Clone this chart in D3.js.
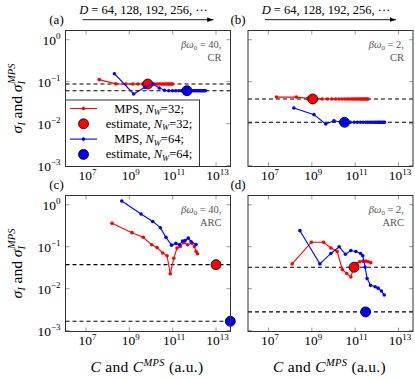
<!DOCTYPE html>
<html>
<head>
<meta charset="utf-8">
<script src="https://cdn.jsdelivr.net/npm/d3@7"></script>
<style>
  html, body { margin: 0; padding: 0; background: #fff; }
  svg text { font-family: "Liberation Serif", "Times New Roman", Times, "DejaVu Serif", serif; }
</style>
</head>
<body>
<script>
// tick exponents
const xTickExps = [7, 9, 11, 13];
const yTickExps = [0, -1, -2, -3];

// (a) beta*omega0 = 40, CR
const aRedLogC = [7.61, 8.38, 8.84, 9.16, 9.40, 9.61, 9.78, 9.93, 10.06, 10.17, 10.28, 10.38, 10.47, 10.55, 10.63, 10.70, 10.77, 10.83, 10.89, 10.95, 11.00];
const aRedSigma = [0.112, 0.089, 0.088, 0.088, 0.088, 0.088, 0.088, 0.088, 0.088, 0.088, 0.088, 0.088, 0.088, 0.088, 0.088, 0.088, 0.088, 0.088, 0.088, 0.088, 0.088];
const aBlueLogC = [8.31, 9.20, 9.72, 10.09, 10.38, 10.62, 10.82, 10.99, 11.14, 11.28, 11.40, 11.51, 11.61, 11.71, 11.80, 11.88, 11.96, 12.03, 12.10, 12.17, 12.24, 12.30, 12.35, 12.41, 12.46, 12.51];
const aBlueSigma = [0.155, 0.051, 0.0736, 0.088, 0.0708, 0.0624, 0.061, 0.061, 0.061, 0.061, 0.061, 0.061, 0.061, 0.061, 0.061, 0.061, 0.061, 0.061, 0.061, 0.061, 0.061, 0.061, 0.061, 0.061, 0.061, 0.061];
const aEstimates = [[9.85, 0.088], [11.66, 0.061]];

// (b) beta*omega0 = 2, CR
const bRedLogC = [7.37, 8.28, 8.81, 9.19, 9.48, 9.72, 9.92, 10.10, 10.25, 10.39, 10.51, 10.63, 10.73, 10.83, 10.92, 11.00, 11.08, 11.16, 11.23, 11.30, 11.36, 11.42, 11.48, 11.54, 11.59];
const bRedSigma = [0.043, 0.043, 0.040, 0.0388, 0.0388, 0.0388, 0.0388, 0.0388, 0.0388, 0.0388, 0.0388, 0.0388, 0.0388, 0.0388, 0.0388, 0.0388, 0.0388, 0.0388, 0.0388, 0.0388, 0.0388, 0.0388, 0.0388, 0.0388, 0.0388];
const bBlueLogC = [8.17, 9.10, 9.64, 10.02, 10.32, 10.56, 10.77, 10.95, 11.10, 11.24, 11.37, 11.49, 11.59, 11.69, 11.78, 11.87, 11.95, 12.03, 12.10, 12.16, 12.23, 12.29, 12.35];
const bBlueSigma = [0.0237, 0.0164, 0.0098, 0.0117, 0.0109, 0.0108, 0.0108, 0.0108, 0.0108, 0.0108, 0.0108, 0.0108, 0.0108, 0.0108, 0.0108, 0.0108, 0.0108, 0.0108, 0.0108, 0.0108, 0.0108, 0.0108, 0.0108];
const bEstimates = [[9.04, 0.0388], [10.51, 0.0108]];

// (c) beta*omega0 = 40, ARC
const cRedLogC = [8.20, 9.12, 9.64, 10.03, 10.28, 10.54, 10.74, 10.89, 11.05, 11.20, 11.35, 11.51, 11.69, 11.88, 12.00, 12.08, 12.15];
const cRedSigma = [0.36, 0.216, 0.168, 0.111, 0.096, 0.071, 0.061, 0.0226, 0.053, 0.093, 0.101, 0.126, 0.111, 0.122, 0.101, 0.077, 0.068];
const cBlueLogC = [8.65, 9.54, 10.08, 10.43, 10.69, 10.95, 11.15, 11.31, 11.46, 11.57, 11.72, 11.85, 12.08];
const cBlueSigma = [1.23, 0.60, 0.40, 0.284, 0.167, 0.109, 0.12, 0.111, 0.136, 0.14, 0.16, 0.131, 0.113];
const cEstimates = [[13.0, 0.0374], [13.66, 0.00167]];

// (d) beta*omega0 = 2, ARC
const dRedLogC = [8.09, 8.98, 9.54, 9.88, 10.17, 10.41, 10.61, 10.80, 10.93, 11.07, 11.21, 11.35, 11.49, 11.60, 11.72];
const dRedSigma = [0.039, 0.128, 0.128, 0.093, 0.077, 0.0285, 0.023, 0.019, 0.0318, 0.0395, 0.044, 0.0453, 0.0453, 0.044, 0.0417];
const dBlueLogC = [8.45, 9.37, 9.88, 10.26, 10.55, 10.80, 11.03, 11.25, 11.35, 11.46, 11.55, 11.71, 11.92, 12.06, 12.21, 12.34];
const dBlueSigma = [0.241, 0.039, 0.069, 0.0995, 0.066, 0.081, 0.077, 0.069, 0.061, 0.0327, 0.0175, 0.012, 0.0111, 0.0103, 0.0088, 0.0071];
const dEstimates = [[10.95, 0.0324], [11.48, 0.0028]];

const RED = '#ff0000', BLUE = '#0000ff';
const PW = 165, PH = 136;

const panels = [
  { id: '(a)', x0: 65.5, y0: 30.5, beta: '40', kind: 'CR', red: [aRedLogC, aRedSigma], blue: [aBlueLogC, aBlueSigma], est: aEstimates, left: true, bottom: false },
  { id: '(b)', x0: 248, y0: 30.5, beta: '2', kind: 'CR', red: [bRedLogC, bRedSigma], blue: [bBlueLogC, bBlueSigma], est: bEstimates, left: false, bottom: false },
  { id: '(c)', x0: 65.5, y0: 195.5, beta: '40', kind: 'ARC', red: [cRedLogC, cRedSigma], blue: [cBlueLogC, cBlueSigma], est: cEstimates, left: true, bottom: true },
  { id: '(d)', x0: 248, y0: 195.5, beta: '2', kind: 'ARC', red: [dRedLogC, dRedSigma], blue: [dBlueLogC, dBlueSigma], est: dEstimates, left: false, bottom: true },
];

const svg = d3.select('body').append('svg').attr('width', 415).attr('height', 379);

svg.append('defs').append('marker')
  .attr('id', 'arrow').attr('viewBox', '0 0 10 10').attr('refX', 10).attr('refY', 5)
  .attr('markerWidth', 7).attr('markerHeight', 7).attr('orient', 'auto')
  .append('path').attr('d', 'M0,1.5 L10,5 L0,8.5 Z').attr('fill', '#000');

function powLabel(sel, exp) {
  sel.append('tspan').text('10');
  sel.append('tspan').attr('dy', -5.5).attr('font-size', 9).text(String(exp).replace('-', '\u2212'));
}

function drawPanel(p) {
  const x = d3.scaleLog().domain([10 ** 6.054, 10 ** 13.668]).range([p.x0, p.x0 + PW]);
  const y = d3.scaleLog().domain([10 ** -3.02, 10 ** 0.22]).range([p.y0 + PH, p.y0]);
  const g = svg.append('g');

  // ticks, inward on all four sides
  const tickCol = '#9a9a9a';
  xTickExps.map(e => 10 ** e).forEach(v => {
    g.append('line').attr('x1', x(v)).attr('x2', x(v)).attr('y1', p.y0 + PH).attr('y2', p.y0 + PH - 4).attr('stroke', tickCol);
    g.append('line').attr('x1', x(v)).attr('x2', x(v)).attr('y1', p.y0).attr('y2', p.y0 + 4).attr('stroke', tickCol);
  });
  yTickExps.map(e => 10 ** e).forEach(v => {
    g.append('line').attr('x1', p.x0).attr('x2', p.x0 + 4).attr('y1', y(v)).attr('y2', y(v)).attr('stroke', tickCol);
    g.append('line').attr('x1', p.x0 + PW).attr('x2', p.x0 + PW - 4).attr('y1', y(v)).attr('y2', y(v)).attr('stroke', tickCol);
  });

  // tick labels
  xTickExps.forEach(e => {
    const t = g.append('text').attr('x', x(10 ** e) + 1.5).attr('y', p.y0 + PH + 13.5)
      .attr('text-anchor', 'middle').attr('font-size', 13.5);
    powLabel(t, e);
  });
  if (p.left) {
    yTickExps.forEach(e => {
      const t = g.append('text').attr('x', p.x0 - 5).attr('y', y(10 ** e) + 5)
        .attr('text-anchor', 'end').attr('font-size', 13.5);
      powLabel(t, e);
    });
  }

  // dashed estimate levels
  p.est.forEach(([lc, s]) => {
    g.append('line').attr('x1', p.x0).attr('x2', p.x0 + PW).attr('y1', y(s)).attr('y2', y(s))
      .attr('stroke', '#000').attr('stroke-width', 1.1).attr('stroke-dasharray', '4,3');
  });

  const line = d3.line().x(d => x(10 ** d[0])).y(d => y(d[1]));
  [[p.red, RED, p.est[0]], [p.blue, BLUE, p.est[1]]].forEach(([ser, col, est]) => {
    const pts = d3.zip(ser[0], ser[1]);
    g.append('path').datum(pts).attr('d', line).attr('fill', 'none').attr('stroke', col).attr('stroke-width', 1.1);
    g.selectAll(null).data(pts).join('circle')
      .attr('cx', d => x(10 ** d[0])).attr('cy', d => y(d[1])).attr('r', 1.8).attr('fill', col);
    g.append('circle').attr('cx', x(10 ** est[0])).attr('cy', y(est[1])).attr('r', 5)
      .attr('fill', col).attr('stroke', '#000').attr('stroke-width', 0.8);
  });

  // frame
  g.append('rect').attr('x', p.x0).attr('y', p.y0).attr('width', PW).attr('height', PH)
    .attr('fill', 'none').attr('stroke', '#333').attr('stroke-width', 1);

  // annotation
  const ax = p.x0 + PW - 9;
  const a1 = g.append('text').attr('x', ax).attr('y', p.y0 + 17.5).attr('text-anchor', 'end')
    .attr('font-size', 10.5).attr('fill', '#555');
  a1.append('tspan').attr('font-style', 'italic').text('βω');
  a1.append('tspan').attr('dy', 1.5).attr('font-size', 7).text('0');
  a1.append('tspan').attr('dy', -1.5).text(' = ' + p.beta + ',');
  g.append('text').attr('x', ax).attr('y', p.y0 + 30).attr('text-anchor', 'end')
    .attr('font-size', 10.5).attr('fill', '#555').text(p.kind);

  // panel label
  g.append('text').attr('x', p.x0 - (p.left ? 9 : 10)).attr('y', p.y0 - 6.5).attr('text-anchor', 'middle')
    .attr('font-size', 13).text(p.id);

  // y title
  if (p.left) {
    const t = g.append('text').attr('transform', `translate(22,${p.y0 + PH / 2}) rotate(-90)`)
      .attr('text-anchor', 'middle').attr('font-size', 15.5);
    t.append('tspan').attr('font-style', 'italic').text('σ');
    t.append('tspan').attr('font-style', 'italic').attr('dy', 3).attr('font-size', 10.5).text('I');
    t.append('tspan').attr('dy', -3).text(' and ');
    t.append('tspan').attr('font-style', 'italic').text('σ');
    t.append('tspan').attr('font-style', 'italic').attr('dy', 3).attr('font-size', 10.5).text('I');
    t.append('tspan').attr('font-style', 'italic').attr('dx', -3).attr('dy', -10.5).attr('font-size', 10.5).text('MPS');
  }
  // x title
  if (p.bottom) {
    const t = g.append('text').attr('x', p.x0 + PW / 2 - 1).attr('y', p.y0 + PH + 40)
      .attr('text-anchor', 'middle').attr('font-size', 15.5).attr('letter-spacing', 0.3);
    t.append('tspan').attr('font-style', 'italic').text('C');
    t.append('tspan').text(' and ');
    t.append('tspan').attr('font-style', 'italic').text('C');
    t.append('tspan').attr('font-style', 'italic').attr('dy', -6).attr('font-size', 10.5).text('MPS');
    t.append('tspan').attr('dy', 6).text(' (a.u.)');
  } else {
    // bond dimension arrow
    svg.append('line').attr('x1', p.x0 + 17).attr('x2', p.x0 + 148).attr('y1', 19.7).attr('y2', 19.7)
      .attr('stroke', '#000').attr('stroke-width', 0.9).attr('marker-end', 'url(#arrow)');
    const t = svg.append('text').attr('x', p.x0 + 78).attr('y', 13.5).attr('text-anchor', 'middle')
      .attr('font-size', 12.5);
    t.append('tspan').attr('font-style', 'italic').text('D');
    t.append('tspan').text(' = 64, 128, 192, 256, \u00b7\u00b7\u00b7');
  }
}

panels.forEach(drawPanel);

// legend in panel (a)
const legendItems = [
  { col: RED, big: false, label: 'MPS, ', nw: '32;' },
  { col: RED, big: true, label: 'estimate, ', nw: '32;' },
  { col: BLUE, big: false, label: 'MPS, ', nw: '64;' },
  { col: BLUE, big: true, label: 'estimate, ', nw: '64;' },
];
const lg = svg.append('g');
lg.append('rect').attr('x', 65.5).attr('y', 100).attr('width', 134).attr('height', 66.5)
  .attr('fill', '#fff').attr('stroke', '#333').attr('stroke-width', 1);
legendItems.forEach((it, i) => {
  const cy = 108.5 + i * 15.3;
  if (!it.big) {
    lg.append('line').attr('x1', 70).attr('x2', 97).attr('y1', cy).attr('y2', cy).attr('stroke', it.col).attr('stroke-width', 1.1);
    lg.append('circle').attr('cx', 83.5).attr('cy', cy).attr('r', 1.8).attr('fill', it.col);
  } else {
    lg.append('circle').attr('cx', 83.5).attr('cy', cy).attr('r', 5).attr('fill', it.col).attr('stroke', '#000').attr('stroke-width', 0.8);
  }
  const t = lg.append('text').attr('x', 149).attr('y', cy + 4).attr('text-anchor', 'middle').attr('font-size', 12.5);
  t.append('tspan').text(it.label);
  t.append('tspan').attr('font-style', 'italic').text('N');
  t.append('tspan').attr('font-style', 'italic').attr('dy', 2.5).attr('font-size', 8.5).text('W');
  t.append('tspan').attr('dy', -2.5).text('=' + it.nw);
});
</script>
</body>
</html>
